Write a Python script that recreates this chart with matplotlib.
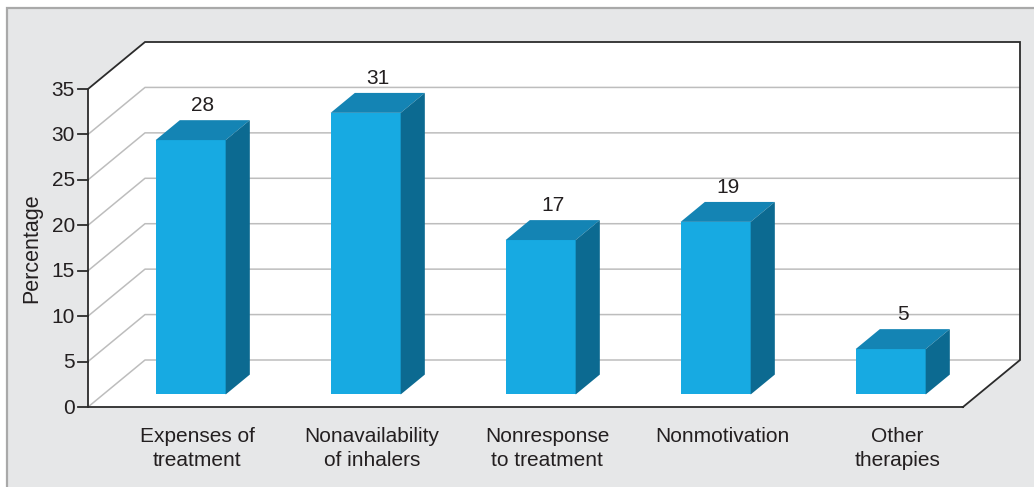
import matplotlib
matplotlib.use("Agg")
import matplotlib.pyplot as plt
from matplotlib.patches import Polygon, Rectangle

# ---- data ----
categories = ["Expenses of\ntreatment", "Nonavailability\nof inhalers",
              "Nonresponse\nto treatment", "Nonmotivation", "Other\ntherapies"]
values = [28, 31, 17, 19, 5]
yticks = [0, 5, 10, 15, 20, 25, 30, 35]
ylabel = "Percentage"

# ---- styling / geometry ----
plt.rcParams['font.family'] = ['Liberation Sans', 'DejaVu Sans']
FS = 15
X0, Y0 = 88.0, 407.0      # front-left origin (pixels)
CW = 175.0                # width of one category on front plane
U = 318.0 / 35.0          # pixels per unit value
DX, DY = 57.0, 47.0       # depth vector
YMAX = 35
BAR_LO, BAR_HI = 0.3, 0.7
D_FRONT, D_BACK = 0.266, 0.69

C_FRONT = '#17aae2'
C_TOP = '#1484b4'
C_SIDE = '#0c6a91'
C_GRID = '#bdbdbd'
C_DARK = '#2b2b2b'
C_PANEL = '#e6e7e8'
C_TEXT = '#231f20'


def P(x, v, d):
    return (X0 + CW * x + DX * d, Y0 - U * v - DY * d)


fig = plt.figure(figsize=(10.34, 4.87), dpi=100)
ax = fig.add_axes([0, 0, 1, 1])
ax.set_xlim(0, 1034)
ax.set_ylim(487, 0)
ax.axis('off')

# outer panel
ax.add_patch(Rectangle((7, 8), 1040, 500, facecolor=C_PANEL,
                       edgecolor='#a9a9a9', linewidth=1.6, zorder=0))

n = len(categories)
# white plot box
box = [P(0, 0, 0), P(0, YMAX, 0), P(0, YMAX, 1), P(n, YMAX, 1),
       P(n, 0, 1), P(n, 0, 0)]
ax.add_patch(Polygon(box, closed=True, facecolor='white', edgecolor='none', zorder=1))

# gridlines
for t in yticks[:-1]:
    a, b, c = P(0, t, 0), P(0, t, 1), P(n, t, 1)
    ax.plot([a[0], b[0], c[0]], [a[1], b[1], c[1]], color=C_GRID, lw=1.1, zorder=2)

# outline
outline = [P(n, 0, 0), P(0, 0, 0), P(0, YMAX, 0), P(0, YMAX, 1),
           P(n, YMAX, 1), P(n, 0, 1), P(n, 0, 0)]
ax.plot([p[0] for p in outline], [p[1] for p in outline], color=C_DARK, lw=1.3,
        zorder=3, solid_joinstyle='miter')

# ticks and tick labels
for t in yticks:
    x, y = P(0, t, 0)
    ax.plot([x - 10, x], [y, y], color=C_DARK, lw=1.3, zorder=3)
    ax.text(x - 13, y + 1, str(t), ha='right', va='center', fontsize=FS, color=C_TEXT)

ax.text(32, 248, ylabel, rotation=90, ha='center', va='center', fontsize=15.5, color=C_TEXT)

# bars
for i, v in enumerate(values):
    l, r = i + BAR_LO, i + BAR_HI
    front = [P(l, 0, D_FRONT), P(r, 0, D_FRONT), P(r, v, D_FRONT), P(l, v, D_FRONT)]
    top = [P(l, v, D_FRONT), P(r, v, D_FRONT), P(r, v, D_BACK), P(l, v, D_BACK)]
    side = [P(r, 0, D_FRONT), P(r, 0, D_BACK), P(r, v, D_BACK), P(r, v, D_FRONT)]
    ax.add_patch(Polygon(front, closed=True, facecolor=C_FRONT, edgecolor='none', zorder=5))
    ax.add_patch(Polygon(top, closed=True, facecolor=C_TOP, edgecolor='none', zorder=5))
    ax.add_patch(Polygon(side, closed=True, facecolor=C_SIDE, edgecolor='none', zorder=5))
    dm = (D_FRONT + D_BACK) / 2
    cx, _ = P(i + 0.5, v, dm)
    _, by = P(i + 0.5, v, D_BACK)
    ax.text(cx, by - 9, str(v), ha='center', va='baseline', fontsize=FS, color=C_TEXT, zorder=6)

# category labels
for i, c in enumerate(categories):
    cx, _ = P(i + 0.5, 0, 0.38)
    ax.text(cx, 427, c, ha='center', va='top', fontsize=FS, color=C_TEXT,
            linespacing=1.33)

fig.savefig('out.png', dpi=100)
